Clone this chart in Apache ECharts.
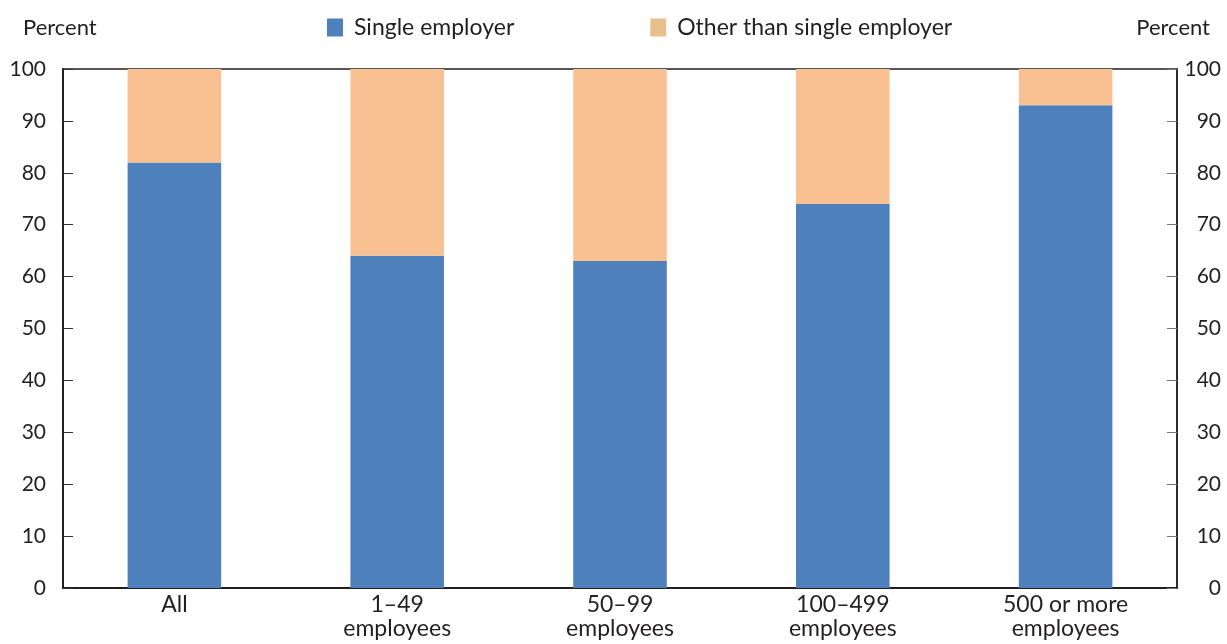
<!DOCTYPE html>
<html>
<head>
<meta charset="utf-8">
<script src="https://cdn.jsdelivr.net/npm/echarts@6/dist/echarts.min.js"></script>
<style>html,body{margin:0;padding:0;background:#fff;}#c{width:1227px;height:644px;}</style>
</head>
<body>
<div id="c"></div>
<script>
const categories = ['All', '1\u201349\nemployees', '50\u201399\nemployees', '100\u2013499\nemployees', '500 or more\nemployees'];
const singleEmployer = [82, 64, 63, 74, 93];
const otherThanSingle = [18, 36, 37, 26, 7];
const yTicks = [0, 10, 20, 30, 40, 50, 60, 70, 80, 90, 100];

const FONT = 'Lato';
const TXT = '#231f20';
const chart = echarts.init(document.getElementById('c'), null, {renderer: 'canvas'});
const yAxisBase = {
  type: 'value', min: yTicks[0], max: yTicks[yTicks.length - 1], interval: yTicks[1] - yTicks[0],
  splitLine: {show: false},
  axisLine: {show: true, lineStyle: {color: TXT, width: 2}},
  axisTick: {show: true, inside: true, length: 10, lineStyle: {color: '#333', width: 1}}
};
chart.setOption({
  animation: false,
  textStyle: {fontFamily: FONT},
  grid: {left: 63, right: 50, top: 69, bottom: 56, show: true, borderColor: TXT, borderWidth: 1.5, backgroundColor: 'transparent'},
  legend: {
    left: 322, top: 11, itemWidth: 16, itemHeight: 18, itemGap: 136,
    textStyle: {fontFamily: FONT, fontSize: 23, color: TXT, padding: [0, 0, 0, 6]},
    data: [{name: 'Single employer', icon: 'rect'}, {name: 'Other than single employer', icon: 'rect', itemStyle: {color: '#e8c08e'}}]
  },
  graphic: [
    {type: 'text', left: 23, top: 17, style: {text: 'Percent', font: '22px ' + FONT, fill: TXT}},
    {type: 'text', right: 17, top: 17, style: {text: 'Percent', font: '22px ' + FONT, fill: TXT}}
  ],
  xAxis: {
    type: 'category', data: categories,
    axisLine: {show: true, lineStyle: {color: TXT, width: 2}},
    axisTick: {show: false},
    axisLabel: {fontFamily: FONT, fontSize: 23, color: TXT, margin: 5, lineHeight: 24, interval: 0}
  },
  yAxis: [
    Object.assign({}, yAxisBase, {position: 'left', axisLabel: {fontFamily: FONT, fontSize: 21, color: TXT, margin: 17}}),
    Object.assign({}, yAxisBase, {position: 'right', axisLine: {show: true, lineStyle: {color: TXT, width: 1.5}},
      axisTick: {show: true, inside: true, length: 10, lineStyle: {color: '#777', width: 1}},
      axisLabel: {fontFamily: FONT, fontSize: 21, color: TXT, margin: 44, align: 'right'}})
  ],
  series: [
    {name: 'Single employer', type: 'bar', stack: 's', data: singleEmployer, barWidth: '42%', itemStyle: {color: '#4e80bb'}},
    {name: 'Other than single employer', type: 'bar', stack: 's', data: otherThanSingle, barWidth: '42%', itemStyle: {color: '#f9c192'}}
  ]
});
</script>
</body>
</html>
